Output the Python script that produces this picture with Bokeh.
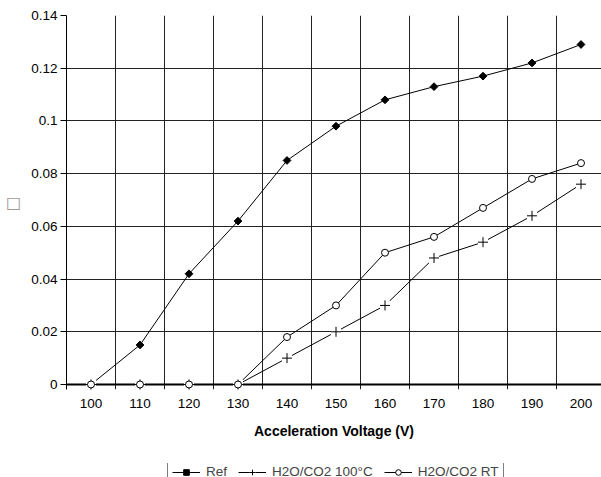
import numpy as np
from bokeh.plotting import figure
from bokeh.layouts import column
from bokeh.models import Range1d, FixedTicker, CustomJSTickFormatter, Legend, LegendItem, Span
from bokeh.embed import file_html
from bokeh.resources import INLINE

# ---- data ----
volts = [100, 110, 120, 130, 140, 150, 160, 170, 180, 190, 200]
ref = [0.0, 0.015, 0.042, 0.062, 0.085, 0.098, 0.108, 0.113, 0.117, 0.122, 0.129]
h2o_100 = [0.0, 0.0, 0.0, 0.0, 0.010, 0.020, 0.030, 0.048, 0.054, 0.064, 0.076]
h2o_rt = [0.0, 0.0, 0.0, 0.0, 0.018, 0.030, 0.050, 0.056, 0.067, 0.078, 0.084]
y_ticks = [0.0, 0.02, 0.04, 0.06, 0.08, 0.10, 0.12, 0.14]
series_names = ["Ref", "H2O/CO2 100°C", "H2O/CO2 RT"]
x_title = "Acceleration Voltage (V)"
y_title = "\u25a1"

FONT = "Liberation Sans"


def draw_series(fig):
    l_ref = fig.line(volts, ref, line_color="black", line_width=1, level="overlay")
    l_100 = fig.line(volts, h2o_100, line_color="black", line_width=1, level="overlay")
    l_rt = fig.line(volts, h2o_rt, line_color="black", line_width=1, level="overlay")
    m_ref = fig.scatter(volts, ref, marker="square", angle=np.pi / 4, size=5.5,
                        fill_color="black", line_color="black", level="overlay")
    m_100bg = fig.scatter(volts, h2o_100, marker="square", size=10,
                          fill_color="white", line_color=None, level="overlay")
    m_100 = fig.scatter(volts, h2o_100, marker="cross", size=10,
                        line_color="black", line_width=1, level="overlay")
    m_rt = fig.scatter(volts, h2o_rt, marker="circle", size=7,
                       fill_color="white", line_color="black", line_width=1, level="overlay")
    return [[l_ref, m_ref], [l_100, m_100bg, m_100], [l_rt, m_rt]]


p = figure(frame_width=535, frame_height=374, output_backend="svg", toolbar_location=None,
           x_range=Range1d(95, 95 + 535 / 4.9), y_range=Range1d(-0.0019, 0.14),
           min_border_left=66, min_border_right=0, min_border_top=15,
           min_border_bottom=74)
p.outline_line_color = None
p.background_fill_color = "white"

# grids at category boundaries
p.xgrid.ticker = FixedTicker(ticks=[v + 5 for v in volts[:-1]])
p.ygrid.ticker = FixedTicker(ticks=y_ticks)
for g in (p.xgrid, p.ygrid):
    g.grid_line_color = "#222222"
    g.grid_line_width = 1

# baseline at zero (x axis line)
p.add_layout(Span(location=0, dimension="width", line_color="black", line_width=2, level="guide"))

# x axis
xa = p.xaxis[0]
xa.ticker = FixedTicker(ticks=volts)
xa.axis_line_color = None
xa.major_tick_line_color = None
xa.major_tick_out = 0
xa.major_tick_in = 0
xa.minor_tick_line_color = None
xa.major_label_standoff = 9
xa.major_label_text_font = FONT
xa.major_label_text_font_size = "13.5px"
xa.major_label_text_color = "black"
xa.axis_label = x_title
xa.axis_label_text_font = FONT
xa.axis_label_text_font_size = "14px"
xa.axis_label_text_font_style = "bold"
xa.axis_label_text_color = "black"
xa.axis_label_standoff = 12

# y axis
ya = p.yaxis[0]
ya.ticker = FixedTicker(ticks=y_ticks)
ya.formatter = CustomJSTickFormatter(code="return String(parseFloat(tick.toFixed(2)))")
ya.axis_line_color = "black"
ya.axis_line_width = 1
ya.major_tick_out = 6
ya.major_tick_in = 0
ya.major_tick_line_color = "black"
ya.minor_tick_line_color = None
ya.major_label_standoff = 3
ya.major_label_text_font = FONT
ya.major_label_text_font_size = "13.5px"
ya.major_label_text_color = "black"
ya.axis_label = y_title
ya.axis_label_orientation = "horizontal"
ya.axis_label_text_font = "DejaVu Sans"
ya.axis_label_text_font_size = "16px"
ya.axis_label_text_font_style = "normal"
ya.axis_label_text_color = "#9a9a9a"
ya.axis_label_standoff = 7

draw_series(p)

# ---- legend strip below the chart (its glyphs sit outside its own view) ----
leg = figure(width=601, height=14, output_backend="svg", toolbar_location=None,
             x_range=Range1d(0, 1), y_range=Range1d(0, 1), min_border=0,
             x_axis_location=None, y_axis_location=None)
leg.grid.visible = False
leg.outline_line_color = None
leg_renderers = draw_series(leg)

legend = Legend(items=[
    LegendItem(label=name, renderers=rs) for name, rs in zip(series_names, leg_renderers)
], orientation="horizontal", location=(101, -7),
    label_text_font=FONT, label_text_font_size="13.5px",
    glyph_width=28, glyph_height=14, label_height=14,
    label_standoff=6, spacing=11, padding=4, margin=0,
    border_line_color="black", border_line_width=1,
    background_fill_color="white", background_fill_alpha=1)
leg.add_layout(legend, "center")

layout = column(p, leg, spacing=0)
open("out.html", "w").write(file_html(layout, INLINE))
